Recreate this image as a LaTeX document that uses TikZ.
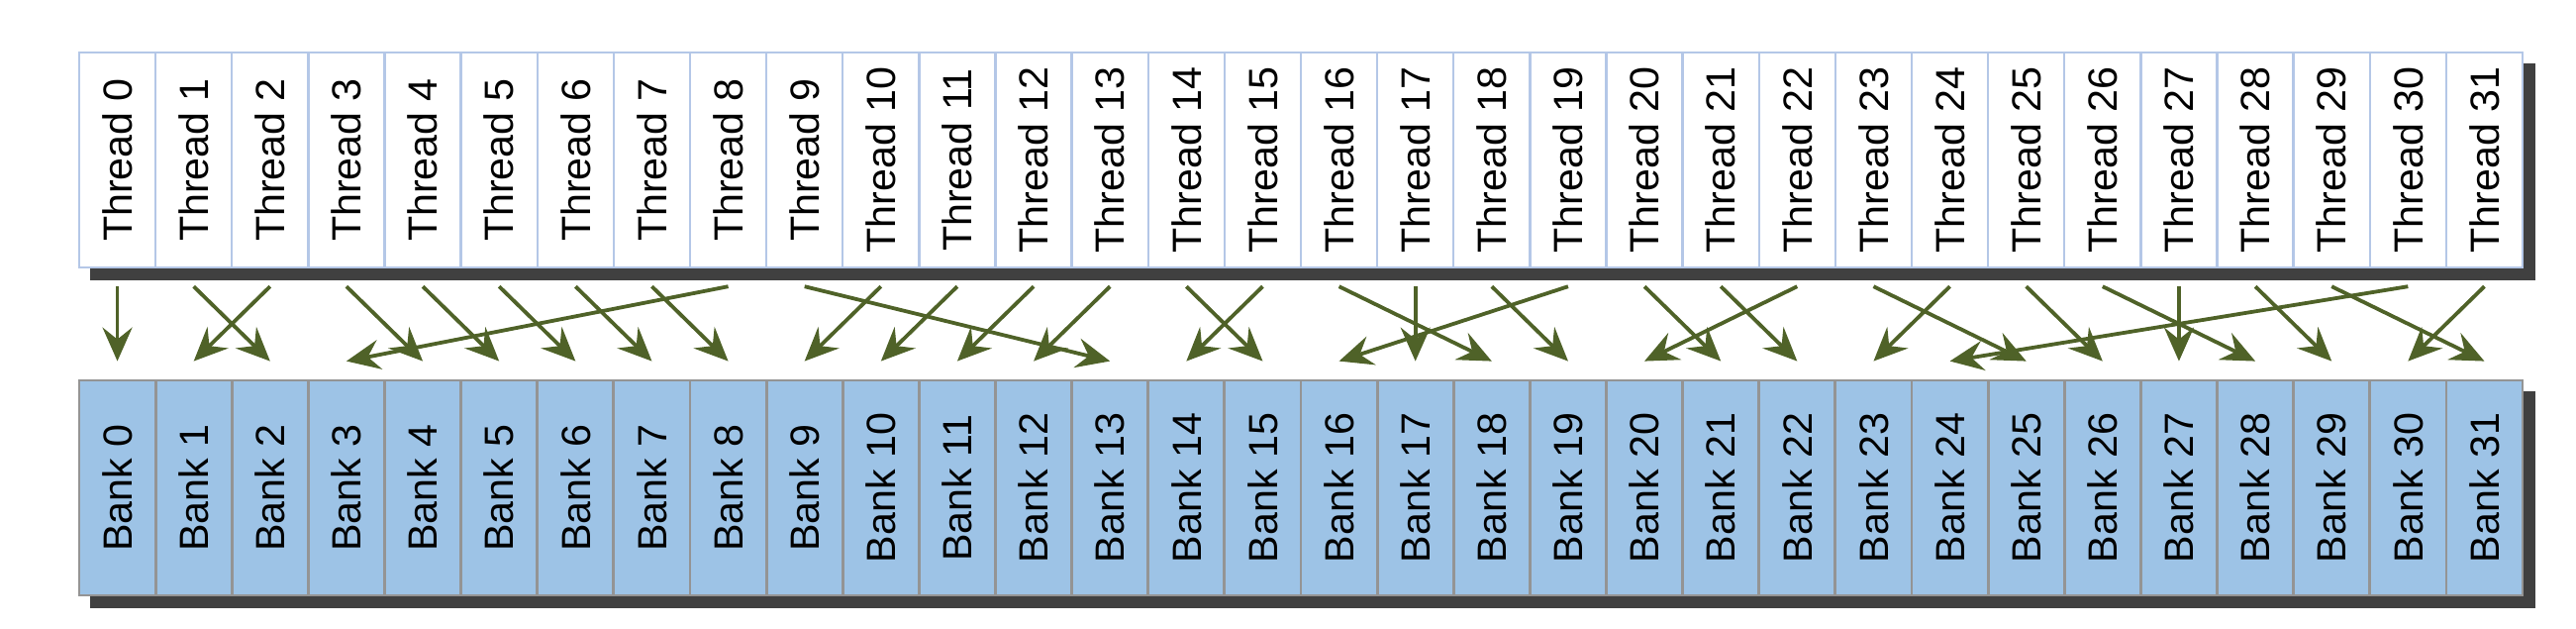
\documentclass[tikz,border=0pt]{standalone}
\usepackage{fontspec}
\setmainfont{Liberation Sans}
\usepackage{graphicx}
\usetikzlibrary{positioning,backgrounds,arrows.meta}
\definecolor{threadline}{RGB}{180,199,231}
\definecolor{bankfill}{RGB}{157,195,230}
\definecolor{bankline}{RGB}{148,148,148}
\definecolor{shadowgray}{RGB}{64,64,64}
\definecolor{arrowgreen}{RGB}{79,98,40}

\begin{document}
\begin{tikzpicture}[x=0.25pt, y=0.25pt,
    cell/.style={rectangle, inner sep=0pt, minimum width=19.28pt, minimum height=54.25pt,
      font=\fontsize{10.3}{12}\selectfont},
    threadcell/.style={cell, draw=threadline, line width=0.6pt, fill=white},
    bankcell/.style={cell, draw=bankline, line width=0.7pt, fill=bankfill},
    access/.style={draw=arrowgreen, line width=0.95pt,
      -{Stealth[length=8.5pt, width=7.5pt, inset=3pt]}}]
    \useasboundingbox (0,0) rectangle (2602,634);

    % Define the 32 threads on top and the 32 banks below
    \foreach \i in {0,...,31} {
      \node[threadcell] (t\i) at ({118.56+77.125*\i}, 472.5) {\rotatebox{90}{Thread \i}};
      \node[bankcell] (b\i) at ({118.56+77.125*\i}, 141.5) {\rotatebox{90}{Bank \i}};
      \coordinate[below=4.5pt of t\i] (ts\i);
      \coordinate[above=4.5pt of b\i] (bs\i);
    }

    % Drop shadows behind both rows
    \begin{scope}[on background layer]
      \fill[shadowgray] ([shift={(12,-12)}]t0.south west) rectangle ([shift={(12,-12)}]t31.north east);
      \fill[shadowgray] ([shift={(12,-12)}]b0.south west) rectangle ([shift={(12,-12)}]b31.north east);
    \end{scope}

    % Connect each thread to the bank it accesses
    \foreach \s/\d in {0/0, 1/2, 2/1, 3/4, 4/5, 5/6, 6/7, 7/8, 8/3, 9/13, 10/9, 11/10,
                       12/11, 13/12, 14/15, 15/14, 16/18, 17/17, 18/19, 19/16, 20/21,
                       21/22, 22/20, 23/25, 24/23, 25/26, 26/28, 27/27, 28/29, 29/31,
                       30/24, 31/30} {
      \draw[access] (ts\s) -- (bs\d);
    }

\end{tikzpicture}
\end{document}
